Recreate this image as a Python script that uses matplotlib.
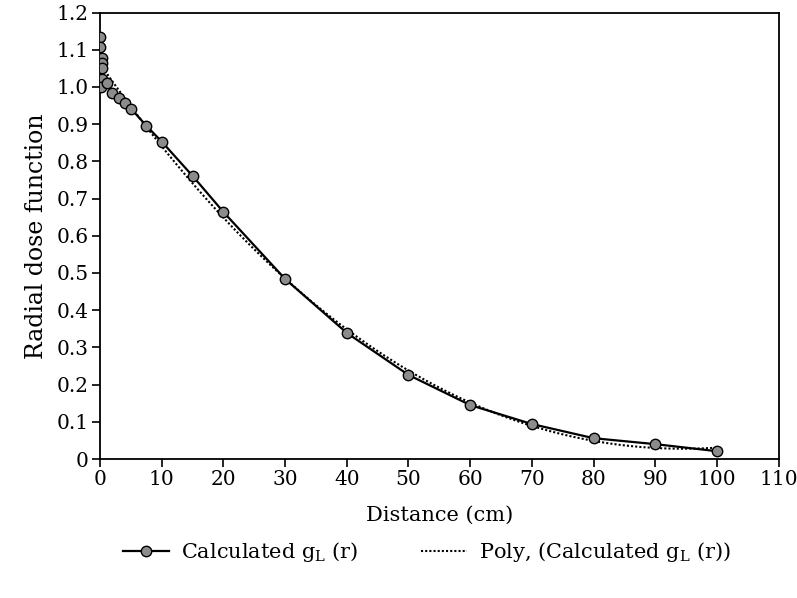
import numpy as np
import matplotlib
matplotlib.use("Agg")
import matplotlib.pyplot as plt

distance_cm = [0.0, 0.05, 0.3, 0.4, 0.35, 0.3, 0.2, 1.1, 2, 3, 4, 5, 7.5, 10, 15, 20, 30, 40, 50, 60, 70, 80, 90, 100]
calculated_gL = [1.133, 1.108, 1.078, 1.064, 1.052, 1.022, 1.0, 1.01, 0.985, 0.970, 0.957, 0.942,
                 0.896, 0.853, 0.761, 0.664, 0.484, 0.339, 0.226, 0.145, 0.094, 0.056, 0.040, 0.021]
xticks = list(range(0, 111, 10))
yticks = [round(0.1 * i, 1) for i in range(13)]
ytick_labels = ["0"] + [f"{v:.1f}" for v in yticks[1:]]

plt.rcParams['font.family'] = ['DejaVu Serif']
plt.rcParams['mathtext.fontset'] = 'dejavuserif'

fig = plt.figure(figsize=(7.97, 5.98), dpi=100)
ax = fig.add_axes([0.1255, 0.2324, 0.8515, 0.7466])

x = np.array(distance_cm)
y = np.array(calculated_gL)
coef = np.polyfit(x, y, 3)
xf = np.linspace(0, 100, 300)
yf = np.polyval(coef, xf)

ax.plot(x, y, color='black', lw=1.6, marker='o', markersize=7.5,
        markerfacecolor='#8c8c8c', markeredgecolor='black', markeredgewidth=1.0,
        label=r'Calculated g$_\mathregular{L}$ (r)', zorder=3)
ax.plot(xf, yf, color='black', lw=1.5, linestyle=(0, (1, 1)),
        label=r'Poly, (Calculated g$_\mathregular{L}$ (r))', zorder=2)

ax.set_xlim(0, 110)
ax.set_ylim(0, 1.2)
ax.set_xticks(xticks)
ax.set_yticks(yticks)
ax.set_yticklabels(ytick_labels)
ax.tick_params(direction='out', length=6, width=1.2, labelsize=14.5, pad=2)
for s in ax.spines.values():
    s.set_linewidth(1.3)
ax.set_xlabel('Distance (cm)', fontsize=15, labelpad=12)
ax.set_ylabel('Radial dose function', fontsize=17, labelpad=6)

leg = fig.legend(loc='center', bbox_to_anchor=(0.536, 0.077), ncol=2, frameon=False,
                 fontsize=15, columnspacing=3.0, handlelength=2.2, handletextpad=0.6)

fig.savefig('out.png', dpi=100)
